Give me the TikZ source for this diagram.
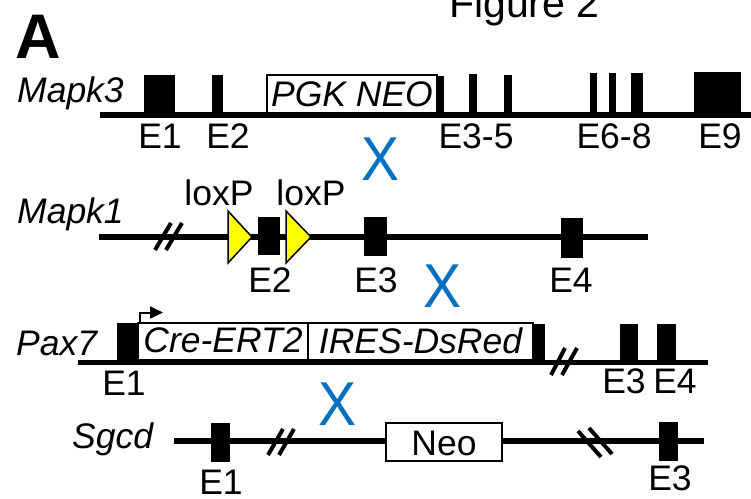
\documentclass[tikz,border=0pt]{standalone}
\usepackage{fontspec}
\setmainfont{Liberation Sans}
\usetikzlibrary{arrows.meta}
\definecolor{xblue}{RGB}{0,112,192}
\definecolor{loxyellow}{RGB}{255,255,0}
\newcommand\exonbox[5]{\node[exon, minimum width={#3-#2}, minimum height={#5-#4}] (#1) at ({(#2+#3)/2},{(#4+#5)/2}) {};}
\begin{document}
\begin{tikzpicture}[x=1pt,y=-1pt,
  lbl/.style={font=\fontsize{35.5}{40}\selectfont, inner sep=0pt, anchor=base},
  gname/.style={font=\fontsize{35.5}{40}\selectfont\itshape, inner sep=0pt, anchor=base west},
  exon/.style={fill=black, draw=none, inner sep=0pt, rectangle},
  gline/.style={line width=5.5pt},
  cbox/.style={draw=black, fill=white, line width=2pt, inner sep=0pt, rectangle},
  btxt/.style={font=\fontsize{35.5}{40}\selectfont\itshape},
  brk/.style={line width=4pt},
  crossx/.style={font=\fontsize{62}{70}\selectfont, text=xblue, inner sep=0pt, anchor=base},
  lox/.style={fill=loxyellow, draw=black, line width=1.5pt, line join=miter}
]
\useasboundingbox (0,0) rectangle (751,498);
\clip (0,0) rectangle (751,498);

% headings
\node[font=\fontsize{63}{70}\selectfont\bfseries, inner sep=0pt, anchor=base west] (panelA) at (15,58) {A};
\node[font=\fontsize{41}{46}\selectfont, inner sep=0pt, anchor=base west] (figtitle) at (449,17) {Figure 2};

% ---------------- Mapk3 ----------------
\node[gname] (nMapk3) at (17,102) {Mapk3};
\coordinate (m3L) at (100,115);
\coordinate (m3R) at (751,115);
\draw[gline] (m3L) -- (m3R);
\exonbox{m3e1}{144}{175}{75}{116}
\exonbox{m3e2}{212}{223}{75}{116}
\node[cbox, minimum width=170, minimum height=38, anchor=south west] (pgk) at (266,114) {};
\node[btxt, inner sep=0pt] (pgkt) at (pgk.center) {PGK NEO};
\exonbox{m3e3}{437}{444}{76}{116}
\exonbox{m3e4}{469}{477}{74}{116}
\exonbox{m3e5}{504}{512}{75}{116}
\exonbox{m3e6}{590}{597}{73}{116}
\exonbox{m3e7}{609}{616}{73}{116}
\exonbox{m3e8}{631}{643}{73}{116}
\exonbox{m3e9}{694}{741}{72}{116}
\node[lbl] (m3l1) at (160,148) {E1};
\node[lbl] (m3l2) at (228,148) {E2};
\node[lbl] (m3l3) at (476,148) {E3-5};
\node[lbl] (m3l6) at (614,148) {E6-8};
\node[lbl] (m3l9) at (720,148) {E9};

\node[crossx] (x1) at (381,180) {\scalebox{0.92}[1]{X}};

% ---------------- Mapk1 ----------------
\node[gname] (nMapk1) at (17,223) {Mapk1};
\coordinate (m1L) at (99,237);
\coordinate (m1R) at (648,237);
\draw[gline] (m1L) -- (m1R);
\draw[brk] (155,250) -- (171,223);
\draw[brk] (166,250) -- (182,223);
\filldraw[lox] (228,211) -- (228,263) -- (252,237) -- cycle;
\exonbox{m1e2}{258}{280}{217}{255}
\filldraw[lox] (286,211) -- (286,263) -- (311,237) -- cycle;
\exonbox{m1e3}{364}{387}{217}{256}
\exonbox{m1e4}{561}{583}{218}{258}
\node[lbl] (lox1) at (219,205) {loxP};
\node[lbl] (lox2) at (311,205) {loxP};
\node[lbl] (m1l2) at (270,292) {E2};
\node[lbl] (m1l3) at (376,292) {E3};
\node[lbl] (m1l4) at (571,292) {E4};

\node[crossx] (x2) at (443,307) {\scalebox{0.92}[1]{X}};

% ---------------- Pax7 ----------------
\node[gname] (nPax7) at (16,355) {Pax7};
\coordinate (p7L) at (78,362.5);
\coordinate (p7R) at (708,362.5);
\draw[gline] (p7L) -- (p7R);
\exonbox{p7e1}{117}{138}{323}{363}
\node[cbox, minimum width=170, minimum height=37, anchor=south west] (cre) at (137,361) {};
\node[btxt, inner sep=0pt] (cret) at ([yshift=1]cre.center) {Cre-ERT2};
\node[cbox, minimum width=225, minimum height=37, anchor=south west] (ires) at (307,361) {};
\node[btxt, inner sep=0pt] (irest) at ([yshift=1]ires.center) {IRES-DsRed};
\exonbox{p7e2}{532}{545}{324}{363}
\exonbox{p7e3}{620}{638}{324}{363}
\exonbox{p7e4}{657}{676}{324}{363}
\draw[brk] (551,375) -- (565,348);
\draw[brk] (562,375) -- (577,348);
\coordinate (prom0) at (140,324);
\coordinate (prom1) at (140,312.5);
\coordinate (prom2) at (163,312.5);
\draw[line width=2pt, -{Triangle[length=13pt,width=12pt]}] (prom0) -- (prom1) -- (prom2);
\node[lbl] (p7l1) at (124,395) {E1};
\node[lbl] (p7l3) at (624,393) {E3};
\node[lbl] (p7l4) at (675,393) {E4};

\node[crossx] (x3) at (338,425) {\scalebox{0.92}[1]{X}};

% ---------------- Sgcd ----------------
\node[gname] (nSgcd) at (72,448) {Sgcd};
\coordinate (sgL) at (174,441);
\coordinate (sgR) at (704,441);
\draw[gline] (sgL) -- (sgR);
\exonbox{sge1}{211}{230}{423}{462}
\draw[brk] (268,455) -- (283,429);
\draw[brk] (279,455) -- (294,429);
\node[cbox, minimum width=116, minimum height=38, line width=2.5pt] (neo) at (444,442) {};
\node[lbl, anchor=base] (neot) at (444,455) {Neo};
\draw[brk] (578,431) -- (601,457);
\draw[brk] (589,428) -- (612,454);
\exonbox{sge3}{659}{678}{422}{461}
\node[lbl] (sgl1) at (221,494) {E1};
\node[lbl] (sgl3) at (670,490) {E3};
\end{tikzpicture}
\end{document}
